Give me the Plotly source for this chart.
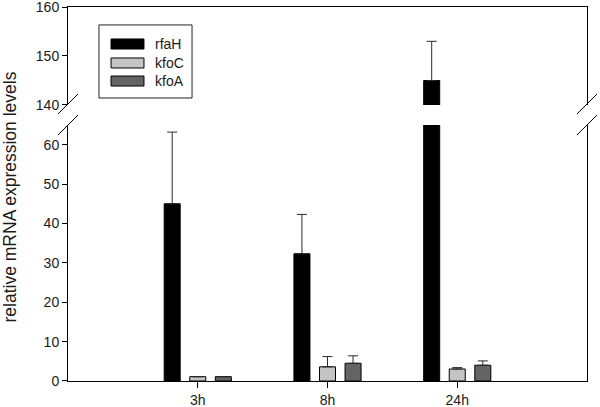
import plotly.graph_objects as go

categories = ["3h", "8h", "24h"]
series_names = ["rfaH", "kfoC", "kfoA"]
rfaH = [45.0, 32.3, 145.0]
rfaH_err = [18.2, 10.0, 8.0]
kfoC = [1.1, 3.6, 3.05]
kfoC_err = [0.0, 2.6, 0.35]
kfoA = [1.1, 4.5, 4.0]
kfoA_err = [0.0, 1.9, 1.1]

values = [rfaH, kfoC, kfoA]
errors = [rfaH_err, kfoC_err, kfoA_err]
colors = ["#000000", "#c4c4c4", "#646464"]

FONT = "Liberation Sans, Arial, sans-serif"
TXT = "#1a1a1a"

fig = go.Figure()
for name, vals, errs, col in zip(series_names, values, errors, colors):
    for xa, ya in (("x", "y"), ("x2", "y2")):
        fig.add_trace(go.Bar(
            x=categories, y=vals, name=name, xaxis=xa, yaxis=ya,
            marker=dict(color=col, line=dict(color="#000000", width=1)),
            error_y=dict(type="data", symmetric=False, array=errs,
                         arrayminus=[0] * len(errs), color="#2a2a2a",
                         thickness=1, width=5),
            showlegend=False, hoverinfo="skip",
        ))

lower_top = 0.6845
upper_bot = 0.738

axis_common = dict(showline=True, linecolor="#000000", linewidth=1,
                   ticks="outside", ticklen=5, tickcolor="#000000",
                   showgrid=False, zeroline=False, automargin=False,
                   ticklabeloverflow="allow",
                   tickfont=dict(family=FONT, size=14, color=TXT))

fig.update_layout(
    template="none",
    width=600, height=407,
    margin=dict(l=68, r=13, t=7, b=26),
    paper_bgcolor="white", plot_bgcolor="white",
    barmode="group", bargap=0.409, bargroupgap=0.373,
    xaxis=dict(domain=[0, 1], anchor="y", type="category",
               range=[-1.0, 3.0], showline=True, linecolor="#000000",
               linewidth=1, ticks="outside", ticklen=6, tickcolor="#000000",
               showgrid=False, zeroline=False, automargin=False,
               tickfont=dict(family=FONT, size=14, color=TXT)),
    xaxis2=dict(domain=[0, 1], anchor="y2", matches="x", type="category",
                side="top", showline=True, linecolor="#000000", linewidth=1,
                ticks="", showticklabels=False, showgrid=False,
                zeroline=False, automargin=False),
    yaxis=dict(domain=[0, lower_top], anchor="x", range=[0, 65],
               tickvals=[0, 10, 20, 30, 40, 50, 60], mirror=True,
               **axis_common),
    yaxis2=dict(domain=[upper_bot, 1], anchor="x2", range=[140, 160],
                tickvals=[140, 150, 160], mirror=True, **axis_common),
)

shapes = []
# break marks
for xc in (0.0, 1.0):
    for yc in (0.7407, 0.6845):
        shapes.append(dict(type="line", xref="paper", yref="paper",
                           x0=xc - 0.0193, x1=xc + 0.0193,
                           y0=yc - 0.0267, y1=yc + 0.0267,
                           line=dict(color="#000000", width=1)))

# legend box
shapes.append(dict(type="rect", xref="paper", yref="paper",
                   x0=0.0597, x1=0.239, y0=0.7567, y1=0.952,
                   line=dict(color="#222222", width=1), fillcolor="white"))
row_y = [0.9011, 0.8503, 0.8021]
annotations = []
for name, col, yc in zip(series_names, colors, row_y):
    shapes.append(dict(type="rect", xref="paper", yref="paper",
                       x0=0.0829, x1=0.1464, y0=yc - 0.0134, y1=yc + 0.0134,
                       line=dict(color="#000000", width=1), fillcolor=col))
    annotations.append(dict(text=name, xref="paper", yref="paper",
                            x=0.1638, y=yc, xanchor="left", yanchor="middle",
                            showarrow=False,
                            font=dict(family=FONT, size=14, color=TXT)))

annotations.append(dict(text="relative mRNA expression levels",
                        xref="paper", yref="paper", x=-0.112, y=0.493,
                        xanchor="center", yanchor="middle", textangle=-90,
                        showarrow=False,
                        font=dict(family=FONT, size=17.5, color=TXT)))

fig.update_layout(shapes=shapes, annotations=annotations)
fig.write_html("out.html",
               config={"displayModeBar": False},
               post_script="document.body.style.margin='0';"
                           "document.body.style.padding='0';")
